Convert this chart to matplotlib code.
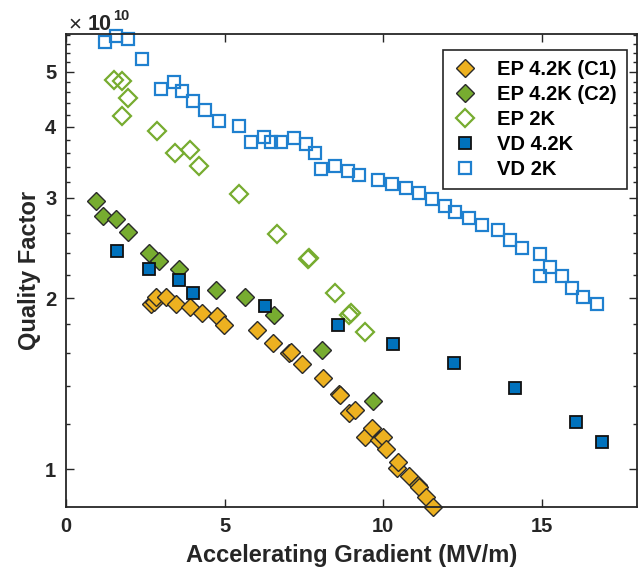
import matplotlib
matplotlib.use("Agg")
import matplotlib.pyplot as plt
from matplotlib.ticker import MultipleLocator, FixedLocator, FuncFormatter, NullFormatter

plt.rcParams['font.family'] = ['Liberation Sans', 'DejaVu Sans']
plt.rcParams['font.weight'] = 'bold'

# ---- data (Q in units of 1e10) ----
ep42c1_x = [2.69, 2.77, 2.85, 3.14, 3.48, 3.90, 4.27, 4.76, 4.98, 6.02, 6.52, 7.02, 7.08,
            7.44, 8.09, 8.60, 8.65, 8.93, 9.12, 9.42, 9.63, 9.85, 9.98, 10.10, 10.42,
            10.45, 10.82, 11.08, 11.12, 11.34, 11.57]
ep42c1_y = [1.95, 1.97, 2.01, 2.01, 1.95, 1.93, 1.88, 1.86, 1.79, 1.76, 1.67, 1.60, 1.61,
            1.53, 1.445, 1.355, 1.35, 1.256, 1.27, 1.137, 1.18, 1.125, 1.14, 1.084, 1.003,
            1.03, 0.972, 0.937, 0.93, 0.894, 0.858]

ep42c2_x = [0.93, 1.17, 1.56, 1.96, 2.62, 2.92, 3.55, 4.74, 5.63, 6.55, 8.07, 9.66]
ep42c2_y = [2.96, 2.79, 2.76, 2.61, 2.40, 2.32, 2.25, 2.07, 2.01, 1.87, 1.62, 1.32]

ep2k_x = [1.51, 1.75, 1.94, 1.77, 2.87, 3.43, 3.90, 4.19, 5.44, 6.65, 7.62, 7.66, 8.49,
          8.91, 8.97, 9.42]
ep2k_y = [4.84, 4.82, 4.49, 4.19, 3.93, 3.60, 3.64, 3.42, 3.05, 2.59, 2.34, 2.35, 2.04,
          1.87, 1.88, 1.74]

vd42k_x = [1.62, 2.62, 3.55, 4.00, 6.27, 8.56, 10.29, 12.23, 14.14, 16.06, 16.90]
vd42k_y = [2.42, 2.25, 2.15, 2.04, 1.94, 1.79, 1.66, 1.54, 1.39, 1.21, 1.117]

vd2k_x = [1.23, 1.57, 1.96, 2.41, 2.98, 3.41, 3.65, 4.00, 4.39, 4.81, 5.44, 5.82, 6.23,
          6.45, 6.78, 7.20, 7.55, 7.86, 8.04, 8.49, 8.88, 9.22, 9.82, 10.27, 10.71, 11.13,
          11.52, 11.94, 12.25, 12.70, 13.10, 13.62, 13.99, 14.38, 14.94, 15.24, 14.93,
          15.64, 15.95, 16.30, 16.74]
vd2k_y = [5.65, 5.78, 5.71, 5.26, 4.66, 4.80, 4.62, 4.45, 4.29, 4.10, 4.02, 3.77, 3.84,
          3.76, 3.77, 3.82, 3.73, 3.60, 3.38, 3.41, 3.35, 3.29, 3.23, 3.18, 3.12, 3.06,
          2.99, 2.90, 2.83, 2.77, 2.69, 2.64, 2.53, 2.45, 2.39, 2.27, 2.19, 2.19, 2.08,
          2.01, 1.95]

labels = ['EP 4.2K (C1)', 'EP 4.2K (C2)', 'EP 2K', 'VD 4.2K', 'VD 2K']
x_ticks = [0, 5, 10, 15]
y_ticks = [1, 2, 3, 4, 5]
scale = 1e10

fig = plt.figure(figsize=(6.41, 5.81), dpi=100)
ax = fig.add_axes([0.103, 0.127, 0.891, 0.8145])

ink = '#262626'
ax.plot(ep42c1_x, [v * scale for v in ep42c1_y], 'D', ms=9.5, mfc='#EDB120', mec='#2a2a2a',
        mew=1.0, label=labels[0], clip_on=False)
ax.plot(ep42c2_x, [v * scale for v in ep42c2_y], 'D', ms=9.5, mfc='#77AC30', mec='#2a2a2a',
        mew=1.0, label=labels[1], clip_on=False)
ax.plot(ep2k_x, [v * scale for v in ep2k_y], 'D', ms=9.5, mfc='none', mec='#77AC30',
        mew=1.6, label=labels[2], clip_on=False)
ax.plot(vd42k_x, [v * scale for v in vd42k_y], 's', ms=8.3, mfc='#0072BD', mec='#111111',
        mew=1.3, label=labels[3], clip_on=False)
ax.plot(vd2k_x, [v * scale for v in vd2k_y], 's', ms=8.3, mfc='none', mec='#1f80cf',
        mew=1.6, label=labels[4], clip_on=False)

ax.set_yscale('log')
ax.set_xlim(0, 18)
ax.set_ylim(0.857e10, 5.83e10)

ax.xaxis.set_major_locator(FixedLocator(x_ticks))
ax.yaxis.set_major_locator(FixedLocator([t * scale for t in y_ticks]))
ax.yaxis.set_major_formatter(FuncFormatter(lambda v, p: '%g' % (v / scale)))
ax.yaxis.set_minor_locator(MultipleLocator(0.2e10))
ax.yaxis.set_minor_formatter(NullFormatter())

ax.tick_params(axis='both', which='both', direction='in', top=True, right=True,
               colors=ink, labelsize=14.5, width=1.0)
ax.tick_params(axis='both', which='major', length=6, pad=7)
ax.tick_params(axis='y', which='minor', length=3)
for lab in ax.get_xticklabels() + ax.get_yticklabels():
    lab.set_fontweight('bold')
for s in ax.spines.values():
    s.set_color(ink)
    s.set_linewidth(1.3)

ax.set_xlabel('Accelerating Gradient (MV/m)', fontsize=17, fontweight='bold', color=ink,
              labelpad=6)
ax.set_ylabel('Quality Factor', fontsize=17, fontweight='bold', color=ink, labelpad=3)

# exponent label
ax.text(0.005, 1.0085, '\u00d7', transform=ax.transAxes, fontsize=16, fontweight='normal',
        color=ink, ha='left', va='baseline')
ax.text(0.037, 1.0085, '10', transform=ax.transAxes, fontsize=15.5, fontweight='bold',
        color=ink, ha='left', va='baseline')
ax.text(0.082, 1.0296, '10', transform=ax.transAxes, fontsize=10.5, fontweight='bold',
        color=ink, ha='left', va='baseline')

leg = ax.legend(loc='upper right', bbox_to_anchor=(0.9825, 0.966), borderaxespad=0,
                fancybox=False, edgecolor=ink, handlelength=1.2,
                handletextpad=1.0, labelspacing=0.3, borderpad=0.5, framealpha=1,
                prop={'weight': 'bold', 'size': 14.5})
leg.get_frame().set_linewidth(1.2)

fig.savefig('out.png', dpi=100)
